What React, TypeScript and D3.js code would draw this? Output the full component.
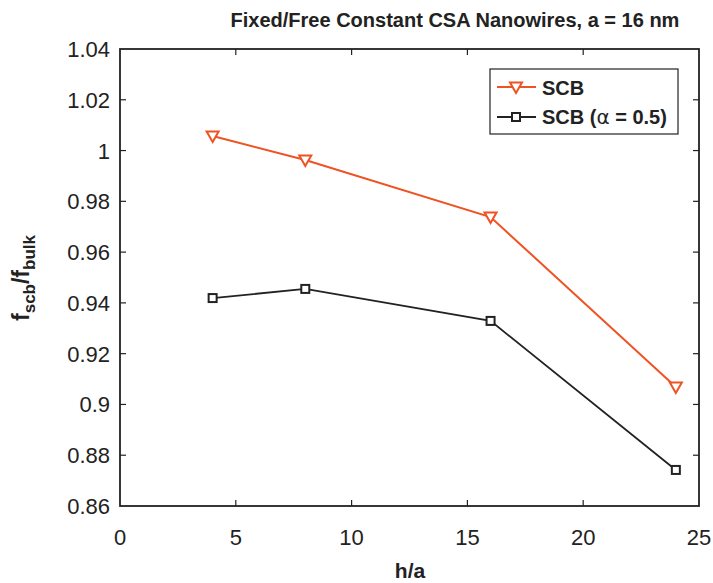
import React from "react";
import * as d3 from "d3";

const hOverA = [4, 8, 16, 24];
const scbValues = [1.0057, 0.9963, 0.9738, 0.9069];
const scbAlphaValues = [0.9419, 0.9455, 0.9329, 0.8742];
const xTicks = [0, 5, 10, 15, 20, 25];
const yTicks = [0.86, 0.88, 0.9, 0.92, 0.94, 0.96, 0.98, 1, 1.02, 1.04];

const W = 713;
const H = 583;
const M = { left: 120, right: 699, top: 49, bottom: 506 };
const ORANGE = "#ef5223";
const DARK = "#222222";
const FONT = "'Liberation Sans', Arial, sans-serif";

export default function App() {
  const x = d3.scaleLinear().domain([0, 25]).range([M.left, M.right]);
  const y = d3.scaleLinear().domain([0.86, 1.04]).range([M.bottom, M.top]);
  const line = d3
    .line<[number, number]>()
    .x((d) => x(d[0]))
    .y((d) => y(d[1]));
  const scbPts = hOverA.map((h, i) => [h, scbValues[i]] as [number, number]);
  const alphaPts = hOverA.map((h, i) => [h, scbAlphaValues[i]] as [number, number]);
  const tri = (cx: number, cy: number) =>
    `M${cx - 6},${cy - 4.5} L${cx + 6},${cy - 4.5} L${cx},${cy + 6} Z`;
  const tickLen = 6;

  return (
    <svg
      width={W}
      height={H}
      style={{ position: "absolute", left: 0, top: 0, background: "#fff" }}
      fontFamily={FONT}
    >
      <text x={455} y={27} textAnchor="middle" fontSize={20} fontWeight="bold" fill="#222">
        Fixed/Free Constant CSA Nanowires, a = 16 nm
      </text>

      {/* ticks on all four sides, pointing inward */}
      {xTicks.slice(1, -1).map((t) => (
        <g key={"xt" + t}>
          <line x1={x(t)} x2={x(t)} y1={M.bottom} y2={M.bottom - tickLen} stroke="#222" strokeWidth={1.2} />
          <line x1={x(t)} x2={x(t)} y1={M.top} y2={M.top + tickLen} stroke="#222" strokeWidth={1.2} />
        </g>
      ))}
      {yTicks.slice(1, -1).map((t) => (
        <g key={"yt" + t}>
          <line x1={M.left} x2={M.left + tickLen} y1={y(t)} y2={y(t)} stroke="#222" strokeWidth={1.2} />
          <line x1={M.right} x2={M.right - tickLen} y1={y(t)} y2={y(t)} stroke="#222" strokeWidth={1.2} />
        </g>
      ))}
      <rect
        x={M.left}
        y={M.top}
        width={M.right - M.left}
        height={M.bottom - M.top}
        fill="none"
        stroke="#222"
        strokeWidth={1.8}
      />

      {xTicks.map((t) => (
        <text key={"xl" + t} x={x(t)} y={M.bottom + 39} textAnchor="middle" fontSize={22} fill="#222">
          {t}
        </text>
      ))}
      {yTicks.map((t) => (
        <text key={"yl" + t} x={M.left - 10} y={y(t) + 8} textAnchor="end" fontSize={22} fill="#222">
          {d3.format("")(t)}
        </text>
      ))}

      <text x={410} y={578} textAnchor="middle" fontSize={21} fontWeight="bold" fill="#222">
        h/a
      </text>
      <text
        transform={`translate(29, 278) rotate(-90)`}
        textAnchor="middle"
        fontSize={23}
        fontWeight="bold"
        fill="#222"
      >
        f<tspan fontSize={17} dy={6}>scb</tspan>
        <tspan dy={-6}>/f</tspan>
        <tspan fontSize={17} dy={6}>bulk</tspan>
      </text>

      <path d={line(scbPts) ?? ""} fill="none" stroke={ORANGE} strokeWidth={2} />
      <path d={line(alphaPts) ?? ""} fill="none" stroke={DARK} strokeWidth={1.8} />
      {scbPts.map((p, i) => (
        <path key={"s" + i} d={tri(x(p[0]), y(p[1]))} fill="#fff" stroke={ORANGE} strokeWidth={2} />
      ))}
      {alphaPts.map((p, i) => (
        <rect
          key={"a" + i}
          x={x(p[0]) - 4}
          y={y(p[1]) - 4}
          width={8}
          height={8}
          fill="#fff"
          stroke={DARK}
          strokeWidth={2}
        />
      ))}

      {/* legend */}
      <rect x={490} y={69} width={188} height={65} fill="#fff" stroke="#222" strokeWidth={1.2} />
      <line x1={497} x2={536} y1={87} y2={87} stroke={ORANGE} strokeWidth={2} />
      <path d={tri(516, 87)} fill="#fff" stroke={ORANGE} strokeWidth={2} />
      <text x={542} y={95} fontSize={20} fontWeight="bold" fill="#222">SCB</text>
      <line x1={497} x2={536} y1={117} y2={117} stroke={DARK} strokeWidth={1.8} />
      <rect x={512} y={113} width={8} height={8} fill="#fff" stroke={DARK} strokeWidth={2} />
      <text x={542} y={124} fontSize={20} fontWeight="bold" fill="#222">
        SCB (<tspan fontFamily="'DejaVu Sans', sans-serif" fontWeight="normal">α</tspan> = 0.5)
      </text>
    </svg>
  );
}
